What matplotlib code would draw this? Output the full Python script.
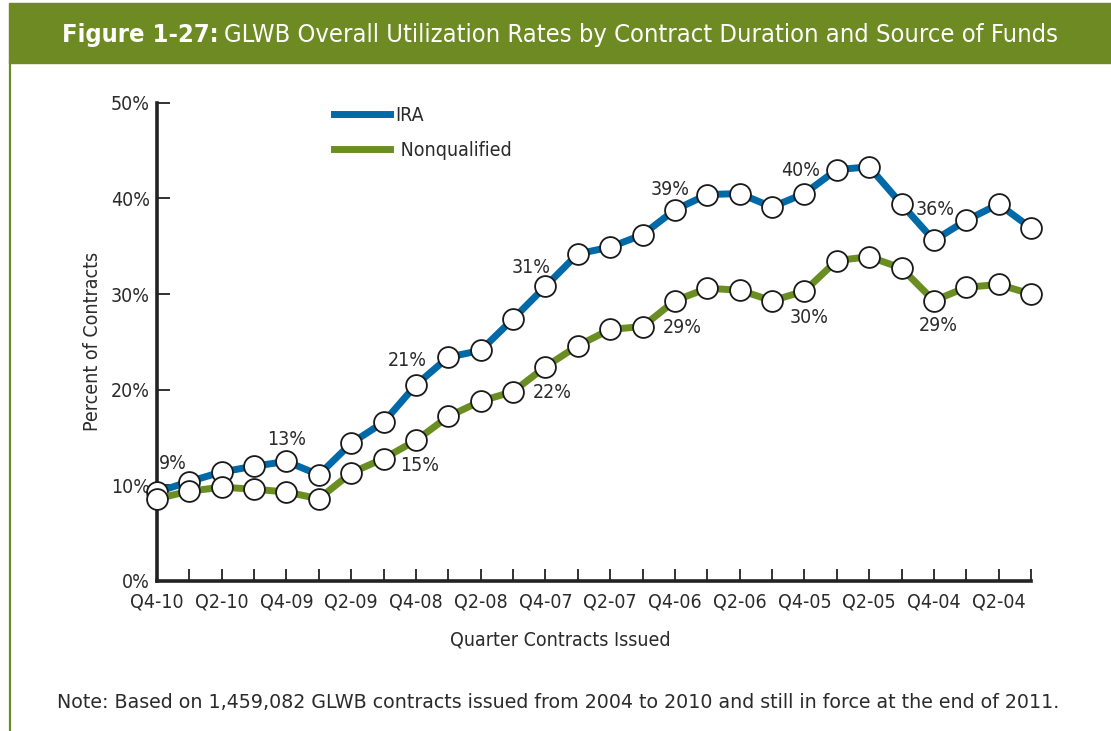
import matplotlib
matplotlib.use("Agg")
import matplotlib.pyplot as plt
from matplotlib import font_manager
import numpy as np

quarters = ["Q4-10", "Q3-10", "Q2-10", "Q1-10", "Q4-09", "Q3-09", "Q2-09", "Q1-09",
            "Q4-08", "Q3-08", "Q2-08", "Q1-08", "Q4-07", "Q3-07", "Q2-07", "Q1-07",
            "Q4-06", "Q3-06", "Q2-06", "Q1-06", "Q4-05", "Q3-05", "Q2-05", "Q1-05",
            "Q4-04", "Q3-04", "Q2-04", "Q1-04"]
ira = [9.3, 10.4, 11.4, 12.0, 12.5, 11.1, 14.4, 16.6, 20.5, 23.4, 24.1, 27.4, 30.8, 34.2,
       34.9, 36.2, 38.8, 40.4, 40.5, 39.1, 40.5, 43.0, 43.3, 39.4, 35.6, 37.7, 39.4, 36.9]
nonq = [8.6, 9.4, 9.8, 9.6, 9.3, 8.6, 11.3, 12.8, 14.7, 17.2, 18.8, 19.8, 22.4, 24.6,
        26.3, 26.6, 29.3, 30.6, 30.4, 29.3, 30.3, 33.5, 33.9, 32.7, 29.3, 30.7, 31.0, 30.0]
ira_labels = {0: "9%", 4: "13%", 8: "21%", 12: "31%", 16: "39%", 20: "40%", 24: "36%"}
nonq_labels = {8: "15%", 12: "22%", 16: "29%", 20: "30%", 24: "29%"}
# label offsets in pixels (dx, dy)
ira_off = {0: (16, 29), 4: (0, 22), 8: (-9, 24), 12: (-14, 19), 16: (-5, 20), 20: (-4, 23), 24: (1, 31)}
nonq_off = {8: (4, -25), 12: (7, -26), 16: (7, -27), 20: (5, -26), 24: (4, -25)}

# condensed face if one is installed
cond = [f for f in font_manager.fontManager.ttflist
        if ("Narrow" in f.name or "Condensed" in f.name or f.stretch in ("condensed", 500 - 100))
        and "Mono" not in f.name and f.style == "normal"]
if cond:
    cond.sort(key=lambda f: (f.weight if isinstance(f.weight, int) else 400) != 400)
    NARROW = dict(family=cond[0].name, stretch=cond[0].stretch)
else:
    NARROW = dict(family="DejaVu Sans", stretch="normal")

BLUE = "#0069A8"
GREEN = "#6B8E23"
BANNER = "#6E8A22"
TXT = "#2b2b2b"

fig = plt.figure(figsize=(11.11, 7.31), dpi=100)
W, H = 1111, 731

def fx(px):
    return px / W

def fy(py):
    return 1 - py / H

def narrow(t):
    t.set_family(NARROW["family"])
    t.set_stretch(NARROW["stretch"])

# banner and frame line
fig.patches.append(plt.Rectangle((fx(9), fy(63)), 1 - fx(9), fy(3) - fy(63),
                                 transform=fig.transFigure, color=BANNER, zorder=0))
fig.add_artist(plt.Line2D([fx(10), fx(10)], [0, fy(63)], color=BANNER, lw=1.6))

ax = fig.add_axes([fx(157), fy(581), fx(1031) - fx(157), fy(102.7) - fy(581)])
x = np.arange(len(quarters))
ax.plot(x, ira, color=BLUE, lw=5, marker="o", ms=15, mfc="white", mec="#1a1a1a",
        mew=1.3, clip_on=False, zorder=3, label="IRA")
ax.plot(x, nonq, color=GREEN, lw=5, marker="o", ms=15, mfc="white", mec="#1a1a1a",
        mew=1.3, clip_on=False, zorder=4, label=" Nonqualified")

for i, s in ira_labels.items():
    dx, dy = ira_off[i]
    a = ax.annotate(s, (x[i], ira[i]), xytext=(dx * 0.72, dy * 0.72), textcoords="offset points",
                    ha="center", va="center", fontsize=14, color=TXT, zorder=6)
    narrow(a)
for i, s in nonq_labels.items():
    dx, dy = nonq_off[i]
    a = ax.annotate(s, (x[i], nonq[i]), xytext=(dx * 0.72, dy * 0.72), textcoords="offset points",
                    ha="center", va="center", fontsize=14, color=TXT, zorder=6)
    narrow(a)

ax.set_xlim(0, len(quarters) - 1)
ax.set_ylim(0, 50)
ax.set_xticks(x)
ax.set_xticklabels([q if i % 2 == 0 else "" for i, q in enumerate(quarters)])
ax.set_yticks([0, 10, 20, 30, 40, 50])
ax.set_yticklabels(["0%", "10%", "20%", "30%", "40%", "50%"])
ax.tick_params(axis="both", direction="in", length=9, width=1.3, color="#222222",
               labelsize=14, labelcolor=TXT)
ax.tick_params(axis="x", pad=8)
ax.tick_params(axis="y", pad=5)
for lab in ax.get_xticklabels() + ax.get_yticklabels():
    narrow(lab)
for side in ["top", "right"]:
    ax.spines[side].set_visible(False)
for side in ["left", "bottom"]:
    ax.spines[side].set_linewidth(2.6)
    ax.spines[side].set_color("#222222")

ax.set_xlabel("Quarter Contracts Issued", fontsize=14, color=TXT)
narrow(ax.xaxis.label)
ax.xaxis.set_label_coords((560 - 157) / 874, -(631 - 581) / 478.3)
ax.set_ylabel("Percent of Contracts", fontsize=14, color=TXT)
narrow(ax.yaxis.label)
ax.yaxis.set_label_coords((102 - 157) / 874, 0.5)

leg = ax.legend(loc="upper left", bbox_to_anchor=((326 - 157) / 874, 1.01), frameon=False,
                prop={"size": 14}, handlelength=2.9, handletextpad=0.25,
                labelspacing=0.85, borderaxespad=0)
for t in leg.get_texts():
    t.set_color(TXT)
    narrow(t)
for h in leg.legend_handles:
    h.set_marker("")
    h.set_linewidth(5)

# title: bold part + regular part
ty = fy(42)
t1 = fig.text(0, ty, "Figure 1-27:", color="white", fontsize=18.3, fontweight="bold",
              va="baseline")
t2 = fig.text(0, ty, "GLWB Overall Utilization Rates by Contract Duration and Source of Funds",
              color="white", fontsize=18.3, va="baseline")
narrow(t1)
narrow(t2)
fig.canvas.draw()
r = fig.canvas.get_renderer()
w1 = t1.get_window_extent(r).width
w2 = t2.get_window_extent(r).width
gap = 6
start = 560 - (w1 + gap + w2) / 2
t1.set_x(fx(start))
t2.set_x(fx(start + w1 + gap))

fig.text(fx(558), fy(703), "Note: Based on 1,459,082 GLWB contracts issued from 2004 to 2010 "
         "and still in force at the end of 2011.", ha="center", va="center",
         fontsize=13.7, color=TXT, family="DejaVu Sans")

fig.savefig("out.png", dpi=100)
